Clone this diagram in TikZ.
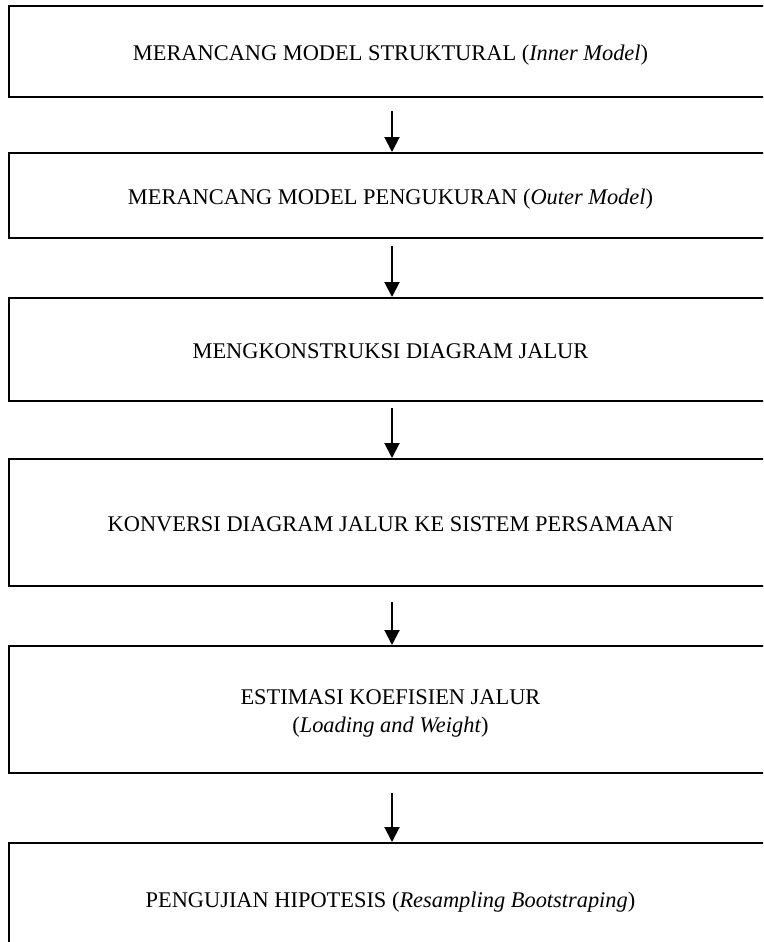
\documentclass[tikz,border=0pt]{standalone}
\usepackage{fontspec}
\setmainfont{Liberation Serif}
\usetikzlibrary{arrows.meta}
\begin{document}
\begin{tikzpicture}[x=1pt,y=-1pt,
  stage/.style={draw=black, line width=2pt, rectangle, minimum width=763pt, inner sep=0pt, align=center, text height=18.8pt, text depth=0pt, font=\fontsize{22.4}{28.3}\selectfont},
  flow/.style={line width=2pt, -{Triangle[width=15pt,length=15pt]}}]
\useasboundingbox (0,0) rectangle (763,942);
\begin{scope}
\clip (0,0) rectangle (763,942);
\node[stage, minimum height=91pt]  (s1) at (390.5,51.5)  {MERANCANG MODEL STRUKTURAL (\textit{Inner Model})};
\node[stage, minimum height=85pt]  (s2) at (390.5,195.5) {MERANCANG MODEL PENGUKURAN (\textit{Outer Model})};
\node[stage, minimum height=103pt] (s3) at (390.5,349.5) {MENGKONSTRUKSI DIAGRAM JALUR};
\node[stage, minimum height=127pt] (s4) at (390.5,522.5) {KONVERSI DIAGRAM JALUR KE SISTEM PERSAMAAN};
\node[stage, minimum height=127pt, text height=45.8pt, text depth=0pt] (s5) at (390.5,709.5) {ESTIMASI KOEFISIEN JALUR\\(\textit{Loading and Weight})};
\node[stage, minimum height=110pt] (s6) at (390.5,898)   {PENGUJIAN HIPOTESIS (\textit{Resampling Bootstraping})};
\draw[flow, shorten <=13pt] ([xshift=1.5pt]s1.south) -- ([xshift=1.5pt]s2.north);
\draw[flow, shorten <=7pt]  ([xshift=1.5pt]s2.south) -- ([xshift=1.5pt]s3.north);
\draw[flow, shorten <=6pt]  ([xshift=1.5pt]s3.south) -- ([xshift=1.5pt]s4.north);
\draw[flow, shorten <=15pt] ([xshift=1.5pt]s4.south) -- ([xshift=1.5pt]s5.north);
\draw[flow, shorten <=19pt] ([xshift=1.5pt]s5.south) -- ([xshift=1.5pt]s6.north);
\end{scope}
\end{tikzpicture}
\end{document}
